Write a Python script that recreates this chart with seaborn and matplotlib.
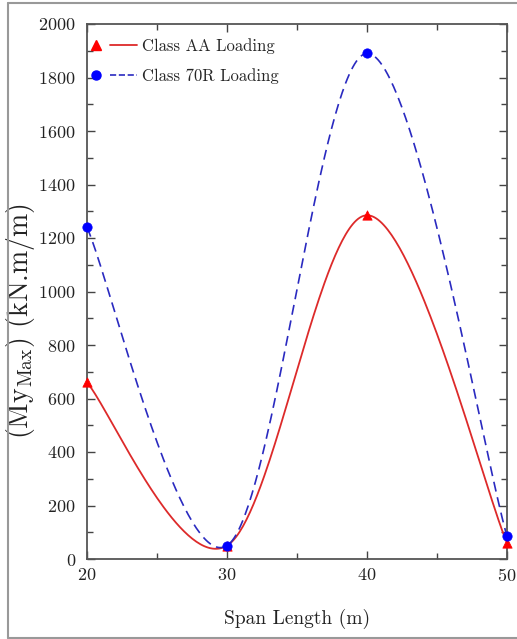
import numpy as np
import seaborn as sns
import matplotlib.pyplot as plt
from matplotlib.lines import Line2D
from matplotlib.legend_handler import HandlerBase
from matplotlib.ticker import MultipleLocator

span = [20, 30, 40, 50]
class_aa = [660, 50, 1285, 60]
class_70r = [1240, 50, 1890, 85]
x_ticks = [20, 30, 40, 50]
y_ticks = [0, 200, 400, 600, 800, 1000, 1200, 1400, 1600, 1800, 2000]

sns.set_style("ticks")
plt.rcParams['font.family'] = ['cmr10', 'DejaVu Serif']
plt.rcParams['mathtext.fontset'] = 'cm'
plt.rcParams['axes.formatter.use_mathtext'] = True

fig = plt.figure(figsize=(5.17, 6.39), dpi=100)
ax = fig.add_axes([87 / 517, 1 - 559 / 639, 420 / 517, 535 / 639])


def smooth_curve(x, y, n=80):
    """Piecewise cubic Bezier smoothing (Catmull-Rom style control points)."""
    P = np.column_stack([x, y]).astype(float)
    out = []
    for i in range(len(P) - 1):
        p0, p3 = P[i], P[i + 1]
        prev = P[i - 1] if i > 0 else P[i]
        nxt = P[i + 2] if i + 2 < len(P) else P[i + 1]
        c1 = p0 + (p3 - prev) / 6
        c2 = p3 - (nxt - p0) / 6
        t = np.linspace(0, 1, n)[:, None]
        seg = ((1 - t) ** 3) * p0 + 3 * (1 - t) ** 2 * t * c1 \
            + 3 * (1 - t) * t ** 2 * c2 + t ** 3 * p3
        out.append(seg if i == 0 else seg[1:])
    return np.vstack(out)


aa_col = '#dd2a2a'
r70_col = '#2a2ac0'
aa_curve = smooth_curve(span, class_aa)
r70_curve = smooth_curve(span, class_70r)
sns.lineplot(x=aa_curve[:, 0], y=aa_curve[:, 1], ax=ax, color=aa_col, lw=1.3,
             sort=False, estimator=None)
sns.lineplot(x=r70_curve[:, 0], y=r70_curve[:, 1], ax=ax, color=r70_col, lw=1.2,
             sort=False, estimator=None, linestyle=(0, (6, 3.5)))
sns.scatterplot(x=span, y=class_aa, ax=ax, marker='^', color='red', s=45,
                edgecolor='red', zorder=5, clip_on=False)
sns.scatterplot(x=span, y=class_70r, ax=ax, marker='o', color='blue', s=45,
                edgecolor='blue', zorder=5, clip_on=False)

ax.set_xlim(20, 50)
ax.set_ylim(0, 2000)
ax.set_xticks(x_ticks)
ax.set_yticks(y_ticks)
ax.xaxis.set_minor_locator(MultipleLocator(5))
ax.yaxis.set_minor_locator(MultipleLocator(100))
ax.tick_params(which='both', direction='in', top=True, right=True,
               labelsize=13, colors='#444444', labelcolor='#222222')
ax.tick_params(which='major', length=6, width=1.0)
ax.tick_params(which='minor', length=4, width=1.0)
ax.tick_params(axis='x', pad=6)
ax.tick_params(axis='y', pad=8)
for s in ax.spines.values():
    s.set_color('#555555')
    s.set_linewidth(1.3)

ax.set_xlabel('Span Length (m)', fontsize=14, color='#222222', labelpad=18)
ax.set_ylabel(r'$(\mathrm{My}_{\mathrm{Max}})$ (kN.m/m)', fontsize=20,
              color='#222222')
ax.yaxis.set_label_coords(-0.12, 0.445)


class MarkerThenLine(HandlerBase):
    """Legend key: the marker on the left, a short line segment to its right."""

    def create_artists(self, legend, orig_handle, xdescent, ydescent,
                       width, height, fontsize, trans):
        mk, ln = orig_handle
        y = height / 2 - ydescent
        x0 = -xdescent
        m = Line2D([x0 + 3.5], [y], marker=mk.get_marker(), ls='none',
                   color=mk.get_color(), ms=mk.get_markersize(), transform=trans)
        seg = Line2D([x0 + 13, x0 + width], [y, y], color=ln.get_color(),
                     lw=ln.get_linewidth(), linestyle=ln.get_linestyle(),
                     transform=trans)
        return [m, seg]


h_aa = (Line2D([], [], marker='^', color='red', ls='none', ms=6.5),
        Line2D([], [], color=aa_col, lw=1.3))
h_70 = (Line2D([], [], marker='o', color='blue', ls='none', ms=6.5),
        Line2D([], [], color=r70_col, lw=1.2, linestyle=(0, (4, 2))))
ax.legend([h_aa, h_70], ['Class AA Loading', 'Class 70R Loading'],
          handler_map={tuple: MarkerThenLine()},
          loc='upper left', bbox_to_anchor=(0.007, 0.977), frameon=False,
          fontsize=12, handlelength=2.75, borderaxespad=0.0, borderpad=0.1,
          labelspacing=0.85, handletextpad=0.3)

# thin grey frame along the top, left and bottom of the figure
frame_kw = dict(transform=fig.transFigure, color='#999999', lw=1.5)
fig.lines.append(Line2D([8 / 517, 1.0], [1 - 3 / 639, 1 - 3 / 639], **frame_kw))
fig.lines.append(Line2D([8 / 517, 8 / 517], [1 - 3 / 639, 1.5 / 639], **frame_kw))
fig.lines.append(Line2D([8 / 517, 1.0], [1.5 / 639, 1.5 / 639], **frame_kw))

fig.savefig('out.png', dpi=100)
